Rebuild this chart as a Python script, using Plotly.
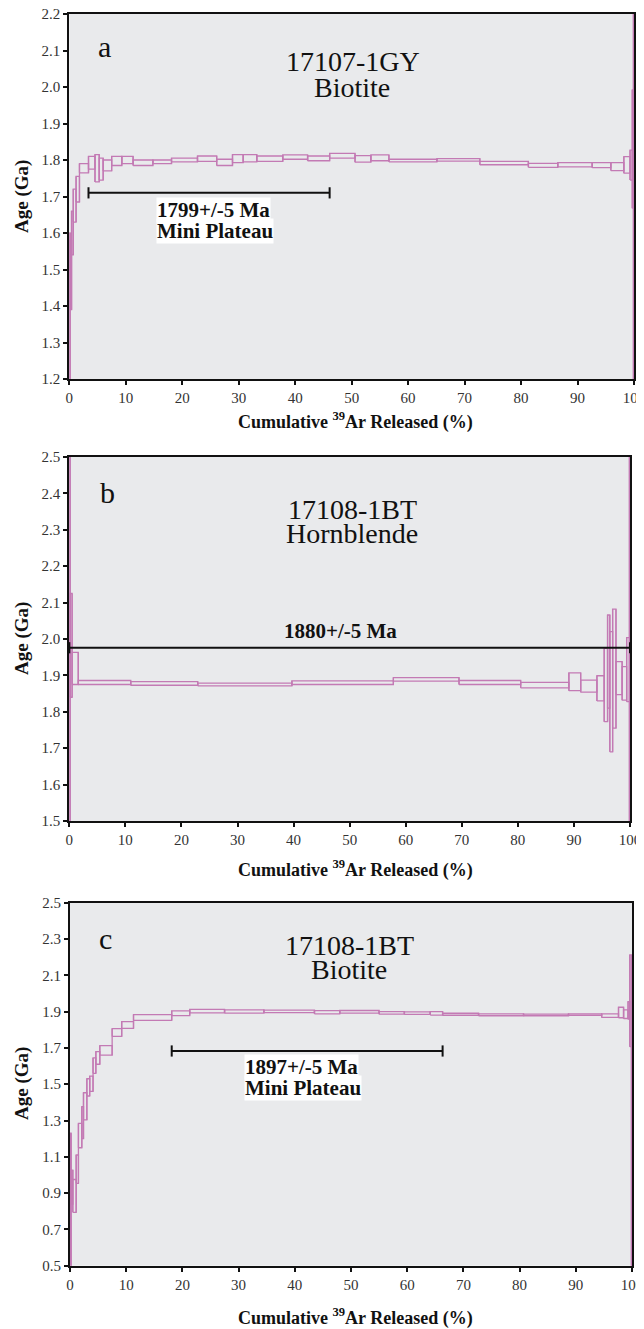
import plotly.graph_objects as go

# ---------------- data ----------------
# Panel a: 17107-1GY Biotite
edges_a = [0, 0.15, 0.4, 0.7, 1.2, 1.8, 3.4, 4.55, 5.3, 6.0, 7.5, 9.3, 11.3, 14.8, 18.1,
           22.7, 26.1, 28.9, 30.8, 33.2, 37.8, 42.2, 46.1, 50.6, 53.4, 56.6, 65.1, 72.7,
           81.3, 86.5, 92.6, 95.9, 98.2, 99.3, 99.7, 99.9, 100]
lo_a = [0.9, 1.39, 1.54, 1.63, 1.685, 1.765, 1.775, 1.74, 1.745, 1.77, 1.785, 1.79, 1.785,
        1.79, 1.795, 1.796, 1.785, 1.793, 1.795, 1.796, 1.802, 1.798, 1.805, 1.794, 1.798,
        1.795, 1.797, 1.787, 1.780, 1.781, 1.779, 1.771, 1.764, 1.745, 1.668, 1.0]
hi_a = [1.60, 1.58, 1.66, 1.72, 1.755, 1.79, 1.81, 1.815, 1.805, 1.80, 1.81, 1.81, 1.80,
        1.80, 1.805, 1.811, 1.802, 1.815, 1.815, 1.811, 1.814, 1.811, 1.818, 1.812, 1.814,
        1.802, 1.804, 1.796, 1.791, 1.793, 1.793, 1.793, 1.809, 1.827, 1.992, 2.5]
plateau_a = [3.4, 46.1]
plateau_age_a = 1.71

# Panel b: 17108-1BT Hornblende
edges_b = [0, 0.15, 0.5, 1.6, 10.95, 22.9, 39.7, 57.8, 69.5, 80.5, 89.1, 91.2, 94.1, 95.4,
           96.0, 96.4, 96.9, 97.5, 98.6, 99.4, 99.9, 100]
lo_b = [1.0, 1.84, 1.875, 1.875, 1.873, 1.871, 1.875, 1.884, 1.875, 1.866, 1.858, 1.854,
        1.830, 1.773, 1.810, 1.690, 1.755, 1.847, 1.832, 1.828, 1.0]
hi_b = [3.0, 2.125, 1.963, 1.886, 1.883, 1.879, 1.885, 1.894, 1.886, 1.881, 1.907, 1.887,
        1.899, 1.974, 2.066, 2.020, 2.082, 1.938, 1.924, 2.004, 3.0]
plateau_b = [0, 100]
plateau_age_b = 1.976

# Panel c: 17108-1BT Biotite
edges_c = [0, 0.2, 0.5, 1.1, 1.5, 2.1, 2.4, 3.0, 3.5, 4.1, 4.6, 5.3, 7.5, 9.2, 11.3, 18.1,
           21.3, 27.5, 34.5, 43.5, 48.0, 55.0, 59.5, 64.1, 66.3, 72.7, 80.7, 88.7, 94.6,
           97.6, 98.5, 99.3, 99.6, 99.9, 100]
lo_c = [0.3, 0.84, 0.794, 0.954, 1.150, 1.200, 1.303, 1.435, 1.460, 1.560, 1.610, 1.660,
        1.763, 1.808, 1.852, 1.878, 1.893, 1.892, 1.894, 1.888, 1.892, 1.886, 1.885, 1.881,
        1.880, 1.877, 1.877, 1.879, 1.868, 1.866, 1.862, 1.858, 1.707, 0.3]
hi_c = [1.23, 1.027, 0.975, 1.110, 1.284, 1.376, 1.453, 1.530, 1.545, 1.645, 1.680, 1.712,
        1.806, 1.845, 1.883, 1.904, 1.912, 1.910, 1.908, 1.905, 1.906, 1.900, 1.898, 1.900,
        1.891, 1.888, 1.886, 1.888, 1.888, 1.924, 1.909, 1.955, 2.212, 1.96]
plateau_c = [18.1, 66.3]
plateau_age_c = 1.683

PINK = "#c37ab4"
FONT = "Liberation Serif"
BG = "#e9eaec"

# page body has an 8px margin: figure is placed at (8, 8)
OFF = 8
W, H = 644 - OFF, 1329 - OFF


def spectrum_path(edges, lo, hi):
    xs, ys = [], []
    n = len(lo)
    for i in range(n):
        x0, x1 = edges[i], edges[i + 1]
        xs += [x0, x1, x1, x0, x0, None]
        ys += [lo[i], lo[i], hi[i], hi[i], lo[i], None]
        if i < n - 1:
            xs += [x1, x1, None]
            ys += [min(lo[i], lo[i + 1]), max(hi[i], hi[i + 1]), None]
    return xs, ys


fig = go.Figure()

panels = [
    ("", edges_a, lo_a, hi_a, plateau_a, plateau_age_a),
    ("2", edges_b, lo_b, hi_b, plateau_b, plateau_age_b),
    ("3", edges_c, lo_c, hi_c, plateau_c, plateau_age_c),
]
for sfx, e, lo, hi, pl, pa in panels:
    xs, ys = spectrum_path(e, lo, hi)
    fig.add_trace(go.Scatter(x=xs, y=ys, mode="lines", xaxis="x" + sfx, yaxis="y" + sfx,
                             line=dict(color=PINK, width=1.3), hoverinfo="skip",
                             showlegend=False))
    fig.add_trace(go.Scatter(x=pl, y=[pa, pa], mode="lines+markers", xaxis="x" + sfx,
                             yaxis="y" + sfx,
                             line=dict(color="#111111", width=2),
                             marker=dict(symbol="line-ns", size=8,
                                         line=dict(color="#111111", width=2)),
                             cliponaxis=False, hoverinfo="skip", showlegend=False))


def PX(sx):
    return (sx - OFF) / W


def PY(sy):
    return 1 - (sy - OFF) / H


def xd(l, r):
    return [PX(l), PX(r)]


def yd(t, b):
    return [PY(b), PY(t)]


ax_common = dict(showline=True, linecolor="#111111", linewidth=2, mirror=True,
                 ticks="outside", ticklen=4, tickwidth=1.5, tickcolor="#111111",
                 showgrid=False, zeroline=False, layer="below traces", automargin=False,
                 ticklabeloverflow="allow",
                 tickfont=dict(family=FONT, size=15, color="#333333"))

layout = dict(
    width=W, height=H, margin=dict(l=0, r=0, t=0, b=0, autoexpand=False),
    paper_bgcolor="white", plot_bgcolor=BG, showlegend=False,
    xaxis=dict(domain=xd(69.3, 634), range=[0, 100], dtick=10, anchor="y", **ax_common),
    yaxis=dict(domain=yd(14, 379), range=[1.2, 2.2], dtick=0.1, tickformat=".1f",
               anchor="x", **ax_common),
    xaxis2=dict(domain=xd(69.3, 630), range=[0, 100], dtick=10, anchor="y2", **ax_common),
    yaxis2=dict(domain=yd(457, 821), range=[1.5, 2.5], dtick=0.1, tickformat=".1f",
                anchor="x2", **ax_common),
    xaxis3=dict(domain=xd(70, 632), range=[0, 100], dtick=10, anchor="y3", **ax_common),
    yaxis3=dict(domain=yd(902.7, 1265.7), range=[0.5, 2.5], tick0=0.5, dtick=0.2,
                tickformat=".1f", anchor="x3", **ax_common),
)
fig.update_layout(**layout)

ann = []


def A(text, sx, sy, size, bold=False, **kw):
    t = "<b>%s</b>" % text if bold else text
    d = dict(text=t, x=PX(sx), y=PY(sy), xref="paper", yref="paper", showarrow=False,
             xanchor="center", yanchor="middle",
             font=dict(family=FONT, size=size, color="#111111"))
    d.update(kw)
    ann.append(d)


# panel letters and titles (screen pixel positions)
TS = 28
A("a", 104, 47, 30)
A("17107-1GY", 353, 62, TS)
A("Biotite", 352, 87, TS)
A("b", 107, 492, 30)
A("17108-1BT", 352, 509, TS)
A("Hornblende", 352, 533, TS)
A("c", 105, 938, 30)
A("17108-1BT", 349, 945, TS)
A("Biotite", 349, 969, TS)

# plateau labels
PS = 21
A("1799+/-5 Ma", 156, 210, PS, bold=True, xanchor="left", bgcolor="white", borderpad=0)
A("Mini Plateau", 156, 231, PS, bold=True, xanchor="left", bgcolor="white", borderpad=0)
A("1880+/-5 Ma", 340, 631, PS, bold=True)
A("1897+/-5 Ma", 244, 1067, PS, bold=True, xanchor="left", bgcolor="white", borderpad=0)
A("Mini Plateau", 244, 1088, PS, bold=True, xanchor="left", bgcolor="white", borderpad=0)

# axis titles
xt = "Cumulative <sup>39</sup>Ar Released (%)"
for cy in (421, 869, 1317):
    A(xt, 355, cy, 18, bold=True)
for cy in (197, 639, 1084):
    A("Age (Ga)", 22, cy, 19, bold=True, textangle=-90)

fig.update_layout(annotations=ann)
fig.write_html("out.html")
